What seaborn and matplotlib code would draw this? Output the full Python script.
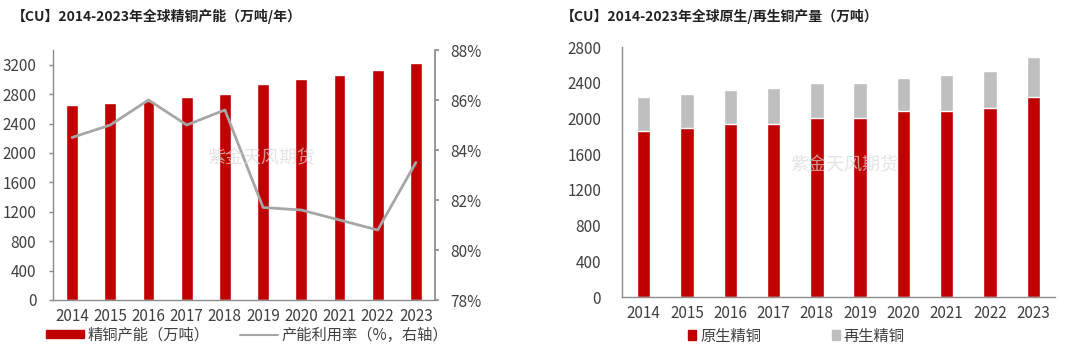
import matplotlib
matplotlib.use("Agg")
import matplotlib.pyplot as plt
import seaborn as sns
import numpy as np
import pandas as pd
from matplotlib.patches import Patch
from matplotlib.lines import Line2D
from matplotlib.ticker import FuncFormatter

years = ["2014", "2015", "2016", "2017", "2018", "2019", "2020", "2021", "2022", "2023"]
capacity = [2650, 2675, 2705, 2760, 2800, 2940, 3010, 3060, 3130, 3220]
utilization = [84.5, 85.0, 86.0, 85.0, 85.6, 81.7, 81.6, 81.2, 80.8, 83.5]
primary = [1855, 1890, 1940, 1940, 2000, 2010, 2080, 2080, 2120, 2240]
secondary = [385, 380, 380, 400, 400, 390, 370, 410, 410, 450]

title_left = "【CU】2014-2023年全球精铜产能（万吨/年）"
title_right = "【CU】2014-2023年全球原生/再生铜产量（万吨）"
leg_cap = "精铜产能（万吨）"
leg_util = "产能利用率（%，右轴）"
leg_pri = "原生精铜"
leg_sec = "再生精铜"

sns.set_theme(style="white")
plt.rcParams['font.family'] = ['Noto Sans CJK SC', 'DejaVu Sans']

RED = "#C00000"
GRAY = "#BFBFBF"
LINE = "#A6A6A6"
AX = "#8C8C8C"
TXT = "#404040"
TS = 11

fig = plt.figure(figsize=(10.8, 3.51), dpi=100)
W, H = 1080, 351

def axes_px(x0, x1, y0, y1):
    return fig.add_axes([x0 / W, (H - y1) / H, (x1 - x0) / W, (y1 - y0) / H])

def style(ax):
    for s in ["top", "right"]:
        ax.spines[s].set_visible(False)
    for s in ["left", "bottom"]:
        ax.spines[s].set_color(AX)
        ax.spines[s].set_linewidth(1)
    ax.tick_params(axis="y", colors=TXT, color=AX, labelsize=TS, length=3, width=1, pad=9)
    ax.tick_params(axis="x", colors=TXT, labelsize=TS, length=0, pad=6)
    ax.set_xticks(np.arange(-0.5, 10, 1), minor=True)
    ax.tick_params(axis="x", which="minor", length=3, color=AX, width=1)

# ---------- left chart ----------
df1 = pd.DataFrame({"year": years, "cap": capacity, "util": utilization})
ax1 = axes_px(53, 435, 50, 300)
sns.barplot(data=df1, x="year", y="cap", color=RED, saturation=1, width=0.31, ax=ax1)
ax1.set_xlim(-0.5, 9.5)
ax1.set_ylim(0, 3400)
ax1.set_yticks(np.arange(0, 3201, 400))
ax1.set_xlabel("")
ax1.set_ylabel("")
style(ax1)

ax2 = ax1.twinx()
sns.lineplot(x=np.arange(len(years)), y=utilization, color=LINE, lw=2, ax=ax2)
ax2.set_ylim(78, 88)
ax2.set_yticks(np.arange(78, 88.1, 2))
ax2.yaxis.set_major_formatter(FuncFormatter(lambda v, p: f"{v:.0f}%"))
for s in ["top", "left", "bottom"]:
    ax2.spines[s].set_visible(False)
ax2.spines["right"].set_color(AX)
ax2.tick_params(axis="y", colors=TXT, color=AX, labelsize=TS, length=3, pad=8)
ax2.set_ylabel("")

h1 = [Patch(facecolor=RED, edgecolor=RED), Line2D([0], [0], color=LINE, lw=1.5)]
fig.legend(h1, [leg_cap, leg_util], loc="center left", bbox_to_anchor=(46 / W, 1 - 335 / H),
           ncol=2, frameon=False, fontsize=11, handlelength=2.5, handleheight=0.45,
           columnspacing=2.0, handletextpad=0.2, labelcolor=TXT, borderpad=0, borderaxespad=0)

# ---------- right chart ----------
df2 = pd.DataFrame({"year": years, "pri": primary, "sec": secondary})
df2["total"] = df2["pri"] + df2["sec"]
ax3 = axes_px(622, 1055, 47, 297)
sns.barplot(data=df2, x="year", y="total", color=GRAY, saturation=1, width=0.31, ax=ax3)
sns.barplot(data=df2, x="year", y="pri", color=RED, saturation=1, width=0.31, ax=ax3)
ax3.set_xlim(-0.5, 9.5)
ax3.set_ylim(0, 2800)
ax3.set_yticks(np.arange(0, 2801, 400))
ax3.set_xlabel("")
ax3.set_ylabel("")
style(ax3)
ax3.tick_params(axis="y", pad=12)

h2 = [Patch(facecolor=RED, edgecolor=RED), Patch(facecolor=GRAY, edgecolor=GRAY)]
fig.legend(h2, [leg_pri, leg_sec], loc="center left", bbox_to_anchor=(688 / W, 1 - 336 / H),
           ncol=2, frameon=False, fontsize=11, handlelength=0.55, handleheight=0.55,
           columnspacing=4.6, handletextpad=0.25, labelcolor=TXT, borderpad=0, borderaxespad=0)

# ---------- titles ----------
fig.text(12 / W, 1 - 16 / H, title_left, fontsize=10, fontweight="bold", color="#222222", va="center")
fig.text(561 / W, 1 - 16 / H, title_right, fontsize=10, fontweight="bold", color="#222222", va="center")

# faint watermarks
for x, y in [(261, 158), (844, 165)]:
    fig.text(x / W, 1 - y / H, "紫金天风期货", fontsize=13, color="#D9D9D9", ha="center", va="center", alpha=0.7)

fig.savefig("out.png", dpi=100, facecolor="white")
